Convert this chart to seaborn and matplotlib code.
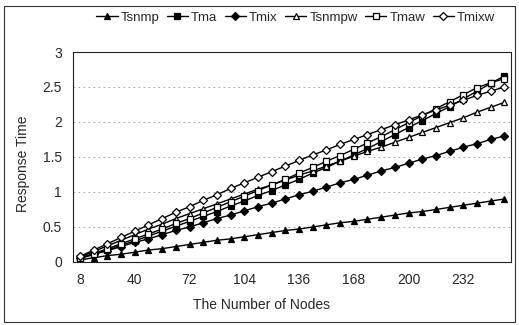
import numpy as np
import pandas as pd
import seaborn as sns
import matplotlib.pyplot as plt

nodes = list(range(8, 257, 8))
tsnmp = [0.03, 0.06, 0.09, 0.11, 0.14, 0.17, 0.19, 0.22, 0.25, 0.28, 0.31, 0.33, 0.36, 0.39, 0.42, 0.45,
         0.47, 0.50, 0.53, 0.56, 0.58, 0.61, 0.64, 0.67, 0.70, 0.72, 0.75, 0.78, 0.81, 0.84, 0.87, 0.90]
tma = [0.05, 0.11, 0.17, 0.24, 0.30, 0.37, 0.44, 0.51, 0.58, 0.65, 0.72, 0.80, 0.87, 0.95, 1.02, 1.10,
       1.18, 1.27, 1.35, 1.44, 1.53, 1.62, 1.72, 1.82, 1.92, 2.02, 2.12, 2.22, 2.33, 2.44, 2.55, 2.66]
tmix = [0.05, 0.11, 0.16, 0.22, 0.28, 0.33, 0.39, 0.45, 0.50, 0.56, 0.62, 0.67, 0.73, 0.79, 0.84, 0.90,
        0.96, 1.01, 1.07, 1.13, 1.18, 1.24, 1.30, 1.35, 1.41, 1.47, 1.52, 1.58, 1.64, 1.69, 1.75, 1.80]
tsnmpw = [0.07, 0.15, 0.23, 0.31, 0.39, 0.47, 0.54, 0.62, 0.69, 0.76, 0.83, 0.90, 0.97, 1.04, 1.10, 1.17,
          1.24, 1.30, 1.37, 1.44, 1.51, 1.58, 1.64, 1.71, 1.78, 1.85, 1.92, 1.99, 2.06, 2.14, 2.21, 2.28]
tmaw = [0.06, 0.12, 0.19, 0.26, 0.33, 0.40, 0.47, 0.55, 0.62, 0.70, 0.78, 0.86, 0.94, 1.02, 1.10, 1.18,
        1.27, 1.35, 1.44, 1.52, 1.61, 1.70, 1.79, 1.89, 1.99, 2.09, 2.19, 2.29, 2.39, 2.49, 2.56, 2.62]
tmixw = [0.08, 0.17, 0.26, 0.35, 0.44, 0.53, 0.62, 0.71, 0.79, 0.88, 0.96, 1.05, 1.13, 1.21, 1.29, 1.37,
         1.45, 1.53, 1.60, 1.68, 1.75, 1.82, 1.89, 1.96, 2.03, 2.10, 2.17, 2.24, 2.31, 2.38, 2.44, 2.50]

series = {'Tsnmp': tsnmp, 'Tma': tma, 'Tmix': tmix, 'Tsnmpw': tsnmpw, 'Tmaw': tmaw, 'Tmixw': tmixw}
xticks = [8, 40, 72, 104, 136, 168, 200, 232]
yticks = [0, 0.5, 1, 1.5, 2, 2.5, 3]

# marker, facecolor, size
styles = {
    'Tsnmp': ('^', 'black', 5),
    'Tma': ('s', 'black', 5),
    'Tmix': ('D', 'black', 4),
    'Tsnmpw': ('^', 'white', 5),
    'Tmaw': ('s', 'white', 5),
    'Tmixw': ('D', 'white', 4),
}

sns.set_style('white')
plt.rcParams['font.family'] = ['Liberation Sans', 'DejaVu Sans']

fig = plt.figure(figsize=(5.19, 3.25), dpi=100)
ax = fig.add_axes([0.141, 0.194, 0.844, 0.646])

for name, vals in series.items():
    m, fc, ms = styles[name]
    df = pd.DataFrame({'nodes': nodes, 'val': vals})
    sns.lineplot(data=df, x='nodes', y='val', ax=ax, color='black', lw=1,
                 marker=m, markersize=ms, markerfacecolor=fc, markeredgecolor='black',
                 markeredgewidth=0.9, label=name, legend=False)

ax.set_xlim(4, 260)
ax.set_ylim(0, 3)
ax.set_xticks(xticks)
ax.set_yticks(yticks)
ax.set_yticklabels(['0', '0.5', '1', '1.5', '2', '2.5', '3'])
ax.tick_params(axis='both', length=0, labelsize=10, pad=8)
ax.yaxis.grid(True, color='#999999', linestyle=(0, (2, 4)), lw=0.6)
ax.xaxis.grid(False)
for s in ax.spines.values():
    s.set_color('#222222')
    s.set_linewidth(0.8)

ax.set_xlabel('The Number of Nodes', fontsize=10)
ax.set_ylabel('Response Time', fontsize=10)
ax.xaxis.set_label_coords(0.43, -0.17)
ax.yaxis.set_label_coords(-0.098, 0.47)

handles, labels = ax.get_legend_handles_labels()
fig.legend(handles, labels, loc='center', bbox_to_anchor=(0.57, 0.945), ncol=6, frameon=False,
           fontsize=9.5, handlelength=1.6, handletextpad=0.25, columnspacing=0.55)

fig.patches.append(plt.Rectangle((0.008, 0.008), 0.984, 0.975, transform=fig.transFigure,
                                 fill=False, edgecolor='#333333', lw=0.8))

fig.savefig('out.png', dpi=100)
